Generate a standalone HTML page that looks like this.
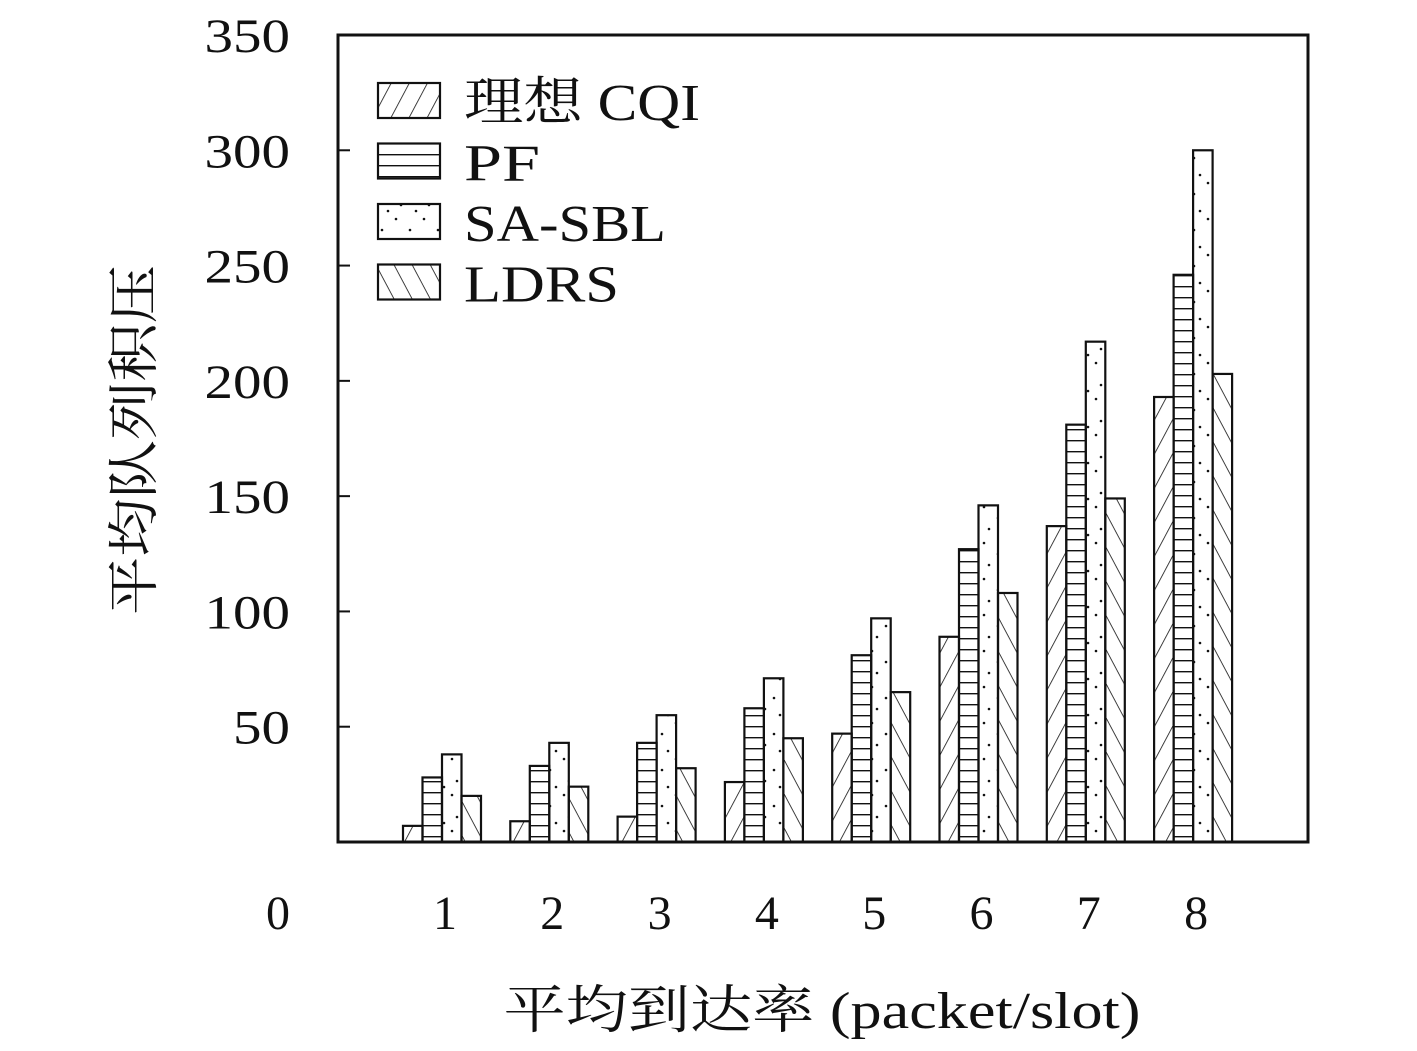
<!DOCTYPE html>
<html><head><meta charset="utf-8"><style>
body{margin:0;background:#fff}
svg text{font-family:"Liberation Serif","Noto Serif CJK SC",serif;fill:#111}
</style></head><body>
<svg width="1417" height="1046" viewBox="0 0 1417 1046" xmlns="http://www.w3.org/2000/svg">
<defs>
<pattern id="p0" patternUnits="userSpaceOnUse" width="16" height="16" patternTransform="rotate(-62)"><line x1="0" y1="0" x2="16" y2="0" stroke="#111" stroke-width="1.6"/></pattern>
<pattern id="p1" patternUnits="userSpaceOnUse" width="10" height="11"><line x1="0" y1="0.5" x2="10" y2="0.5" stroke="#111" stroke-width="1.8"/></pattern>
<pattern id="p2" patternUnits="userSpaceOnUse" width="28" height="36"><circle cx="4" cy="3" r="1.3" fill="#111"/><circle cx="18" cy="14" r="1.3" fill="#111"/><circle cx="9" cy="25" r="1.3" fill="#111"/><circle cx="24" cy="31" r="1.3" fill="#111"/></pattern>
<pattern id="p3" patternUnits="userSpaceOnUse" width="16" height="16" patternTransform="rotate(62)"><line x1="0" y1="0" x2="16" y2="0" stroke="#111" stroke-width="1.6"/></pattern>
</defs>
<g id="plot"></g>
<rect x="338" y="35" width="970" height="807" fill="none" stroke="#111" stroke-width="3"/>
<text transform="translate(152,440) rotate(-90)" font-size="52" text-anchor="middle" textLength="350" lengthAdjust="spacingAndGlyphs">平均队列积压</text>
<text x="822" y="1028" font-size="52" text-anchor="middle" textLength="637" lengthAdjust="spacingAndGlyphs">平均到达率 (packet/slot)</text>
<text x="290" y="929" font-size="48" text-anchor="end">0</text>
<g id="legend"></g>
</svg>
<script>
const categories = ["1","2","3","4","5","6","7","8"];
const seriesNames = ["理想 CQI","PF","SA-SBL","LDRS"];
const idealCQI = [7, 9, 11, 26, 47, 89, 137, 193];
const pf = [28, 33, 43, 58, 81, 127, 181, 246];
const sasbl = [38, 43, 55, 71, 97, 146, 217, 300];
const ldrs = [20, 24, 32, 45, 65, 108, 149, 203];
const yTicks = [50, 100, 150, 200, 250, 300, 350];
const series = [idealCQI, pf, sasbl, ldrs];
const legendWidths = [236, 76, 202, 155];
const NS = "http://www.w3.org/2000/svg";
const y0 = 842, y350 = 35;
const yScale = v => y0 - v * (y0 - y350) / 350;
const xScale = i => 445 + i * 107.3;
const barW = 19.5;
const plot = document.getElementById('plot');
function mk(tag, attrs, parent){const e=document.createElementNS(NS,tag);for(const k in attrs)e.setAttribute(k,attrs[k]);parent.appendChild(e);return e;}
series.forEach((s, si) => {
  s.forEach((v, i) => {
    const x = xScale(i) - 42 + si * barW;
    const r = mk('rect', {x: x, y: yScale(v), width: barW, height: y0 - yScale(v), fill: 'url(#p' + si + ')', stroke: '#111', 'stroke-width': 2.2}, plot);
    
    
  });
});
categories.forEach((c, i) => {
  const t = mk('text', {x: xScale(i), y: 929, 'font-size': 48, 'text-anchor': 'middle'}, plot);
  t.textContent = c;
  
  
});
yTicks.forEach(v => {
  const t = mk('text', {x: 290, y: yScale(v) + 17, 'font-size': 48, 'text-anchor': 'end', textLength: String(v).length * 28.5, lengthAdjust: 'spacingAndGlyphs'}, plot);
  t.textContent = v;
  
  
  const l = mk('line', {x1: 338, x2: 350, y1: yScale(v), y2: yScale(v), stroke: '#111', 'stroke-width': 2}, plot);
  
  
});
const legend = document.getElementById('legend');
seriesNames.forEach((n, si) => {
  const yy = 83 + si * 60.5;
  const r = mk('rect', {x: 378, y: yy, width: 62, height: 35, fill: 'url(#p' + si + ')', stroke: '#111', 'stroke-width': 2.2}, legend);
  
  
  const t = mk('text', {x: 464, y: yy + 37, 'font-size': 52, textLength: legendWidths[si], lengthAdjust: 'spacingAndGlyphs'}, legend);
  t.textContent = n;
  
  
});
</script>
</body></html>
